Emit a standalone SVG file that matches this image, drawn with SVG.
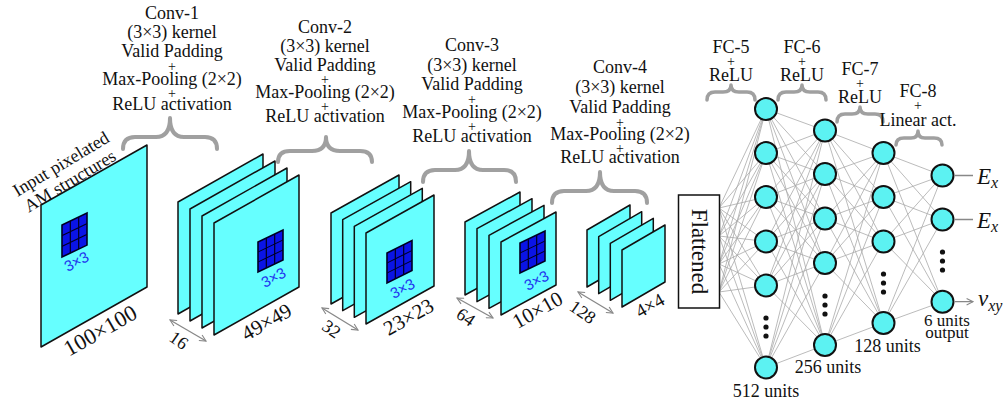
<svg xmlns="http://www.w3.org/2000/svg" width="1005" height="405" viewBox="0 0 1005 405">
<style>
.pl{fill:#66ffff;stroke:#111;stroke-width:1.5;stroke-linejoin:round}
.t{font-family:"Liberation Serif","Times New Roman",serif;fill:#111;font-size:18px;text-anchor:middle}
.pls{font-size:14px}
.dim{font-size:21px}
.bl{font-family:"Liberation Sans",Arial,sans-serif;fill:#2233ee;font-size:15px;text-anchor:middle}
.br{fill:none;stroke:#a0a0a0;stroke-width:4;stroke-linecap:round;stroke-linejoin:round}
.cn{fill:none;stroke:#aaa;stroke-width:0.8}
.nd{fill:#5cf2f2;stroke:#111;stroke-width:2}
.ar{fill:none;stroke:#888;stroke-width:1.3}
.dot{fill:#111}
.it{font-style:italic;text-anchor:start;font-size:23px}
</style>
<defs>
<marker id="ah" viewBox="0 0 10 10" refX="9" refY="5" markerWidth="8" markerHeight="8" markerUnits="userSpaceOnUse" orient="auto-start-reverse">
<path d="M1 1L9 5L1 9" fill="none" stroke="#888" stroke-width="1.4"/>
</marker>
<g id="grid">
<rect x="0" y="0" width="25" height="30" fill="#0a14e6" stroke="#000022" stroke-width="1.6"/>
<path d="M8.33 0V30M16.67 0V30M0 10H25M0 20H25" stroke="#000022" stroke-width="1.2"/>
</g>
</defs>

<!-- connectors -->
<g id="connectors">
<path class="cn" d="M719 208L766 109M719 208L766 153M719 208L766 197M719 208L766 241.5M719 208L766 285.5M719 208L766 367.5M719 236L766 109M719 236L766 153M719 236L766 197M719 236L766 241.5M719 236L766 285.5M719 236L766 367.5M719 264L766 109M719 264L766 153M719 264L766 197M719 264L766 241.5M719 264L766 285.5M719 264L766 367.5M719 292L766 109M719 292L766 153M719 292L766 197M719 292L766 241.5M719 292L766 285.5M719 292L766 367.5"/>
<path class="cn" d="M766 109L825 130.5M766 109L825 174M766 109L825 218.5M766 109L825 263M766 109L825 345M766 153L825 130.5M766 153L825 174M766 153L825 218.5M766 153L825 263M766 153L825 345M766 197L825 130.5M766 197L825 174M766 197L825 218.5M766 197L825 263M766 197L825 345M766 241.5L825 130.5M766 241.5L825 174M766 241.5L825 218.5M766 241.5L825 263M766 241.5L825 345M766 285.5L825 130.5M766 285.5L825 174M766 285.5L825 218.5M766 285.5L825 263M766 285.5L825 345M766 367.5L825 130.5M766 367.5L825 174M766 367.5L825 218.5M766 367.5L825 263M766 367.5L825 345"/>
<path class="cn" d="M825 130.5L883.5 153M825 130.5L883.5 197M825 130.5L883.5 241.5M825 130.5L883.5 323M825 174L883.5 153M825 174L883.5 197M825 174L883.5 241.5M825 174L883.5 323M825 218.5L883.5 153M825 218.5L883.5 197M825 218.5L883.5 241.5M825 218.5L883.5 323M825 263L883.5 153M825 263L883.5 197M825 263L883.5 241.5M825 263L883.5 323M825 345L883.5 153M825 345L883.5 197M825 345L883.5 241.5M825 345L883.5 323"/>
<path class="cn" d="M883.5 153L942.5 175.5M883.5 153L942.5 219.5M883.5 153L942.5 301.7M883.5 197L942.5 175.5M883.5 197L942.5 219.5M883.5 197L942.5 301.7M883.5 241.5L942.5 175.5M883.5 241.5L942.5 219.5M883.5 241.5L942.5 301.7M883.5 323L942.5 175.5M883.5 323L942.5 219.5M883.5 323L942.5 301.7"/>
<path class="ar" marker-end="url(#ah)" d="M955 175.5H973M955 219.5H973M955 301.7H973"/>
<path class="ar" marker-start="url(#ah)" marker-end="url(#ah)" d="M170 320L206 341"/>
<path class="ar" marker-start="url(#ah)" marker-end="url(#ah)" d="M322 308L358 330"/>
<path class="ar" marker-start="url(#ah)" marker-end="url(#ah)" d="M457 298L493 318"/>
<path class="ar" marker-start="url(#ah)" marker-end="url(#ah)" d="M578 292L613 313"/>
</g>

<!-- input -->
<g id="input">
<text class="t" x="64" y="169" transform="rotate(-31 64 169)">Input pixelated</text>
<text class="t" x="73" y="186" transform="rotate(-31 73 186)">AM structures</text>
<polygon class="pl" points="41,205 147,145 147,287 41,347"/>
<use href="#grid" transform="matrix(1,-0.48,0,1.07,62,225)"/>
<text class="bl" x="79" y="266" transform="rotate(-28 79 266)">3×3</text>
<text class="t" style="font-size:22.5px" x="104" y="337" transform="rotate(-29.5 104 337)">100×100</text>
</g>

<!-- conv-1 -->
<g id="conv1">
<text class="t" x="172" y="18.5">Conv-1</text>
<text class="t" x="172" y="37.5">(3×3) kernel</text>
<text class="t" x="172" y="57">Valid Padding</text>
<text class="t pls" x="172" y="70.5">+</text>
<text class="t" x="172" y="84.5">Max-Pooling (2×2)</text>
<text class="t pls" x="172" y="97.5">+</text>
<text class="t" x="172" y="109.5">ReLU activation</text>
<path class="br" d="M123 149Q123 137 135 137H156Q170 137 170 118Q170 137 184 137H205Q217 137 217 149"/>
<polygon class="pl" points="178,202 263,154 263,266 178,314"/>
<polygon class="pl" points="190,209 275,161 275,273 190,321"/>
<polygon class="pl" points="202,216 287,168 287,280 202,328"/>
<polygon class="pl" points="214,223 299,175 299,287 214,335"/>
<use href="#grid" transform="matrix(1,-0.48,0,1,258,242)"/>
<text class="bl" x="276" y="282" transform="rotate(-28 276 282)">3×3</text>
<text class="t dim" x="270" y="328" transform="rotate(-29.5 270 328)">49×49</text>
<text class="t" x="175.4" y="345.2" transform="rotate(35 175.4 345.2)">16</text>
</g>

<!-- conv-2 -->
<g id="conv2">
<text class="t" x="325" y="33">Conv-2</text>
<text class="t" x="325" y="51.5">(3×3) kernel</text>
<text class="t" x="325" y="70.5">Valid Padding</text>
<text class="t pls" x="325" y="84">+</text>
<text class="t" x="325" y="98.3">Max-Pooling (2×2)</text>
<text class="t pls" x="325" y="110.5">+</text>
<text class="t" x="325" y="122">ReLU activation</text>
<path class="br" d="M278 162Q278 151 290 151H312Q326 151 326 137Q326 151 340 151H360Q372 151 372 162"/>
<polygon class="pl" points="331,213 399,175 399,266 331,304"/>
<polygon class="pl" points="342.7,219.7 410.7,181.7 410.7,272.7 342.7,310.7"/>
<polygon class="pl" points="354.3,226.3 422.3,188.3 422.3,279.3 354.3,317.3"/>
<polygon class="pl" points="366,233 434,195 434,286 366,324"/>
<use href="#grid" transform="matrix(1,-0.5,0,1,387,253)"/>
<text class="bl" x="405" y="293" transform="rotate(-28 405 293)">3×3</text>
<text class="t dim" x="412" y="323" transform="rotate(-29.5 412 323)">23×23</text>
<text class="t" x="328" y="334" transform="rotate(35 328 334)">32</text>
</g>

<!-- conv-3 -->
<g id="conv3">
<text class="t" x="472" y="50.7">Conv-3</text>
<text class="t" x="472" y="70.5">(3×3) kernel</text>
<text class="t" x="472" y="90">Valid Padding</text>
<text class="t pls" x="472" y="104">+</text>
<text class="t" x="472" y="118">Max-Pooling (2×2)</text>
<text class="t pls" x="472" y="131">+</text>
<text class="t" x="472" y="141.7">ReLU activation</text>
<path class="br" d="M423 182Q423 170 435 170H455Q469 170 469 151Q469 170 483 170H504Q516 170 516 182"/>
<polygon class="pl" points="465,222 520,192 520,265 465,295"/>
<polygon class="pl" points="477,228.7 532,198.7 532,271.7 477,301.7"/>
<polygon class="pl" points="489,235.3 544,205.3 544,278.3 489,308.3"/>
<polygon class="pl" points="501,242 556,212 556,285 501,315"/>
<use href="#grid" transform="matrix(1,-0.48,0,1,520,243)"/>
<text class="bl" x="539" y="285" transform="rotate(-28 539 285)">3×3</text>
<text class="t dim" x="541" y="316" transform="rotate(-29.5 541 316)">10×10</text>
<text class="t" x="462.4" y="322" transform="rotate(35 462.4 322)">64</text>
</g>

<!-- conv-4 -->
<g id="conv4">
<text class="t" x="620" y="73.3">Conv-4</text>
<text class="t" x="620" y="93.3">(3×3) kernel</text>
<text class="t" x="620" y="113.3">Valid Padding</text>
<text class="t pls" x="620" y="127">+</text>
<text class="t" x="620" y="140">Max-Pooling (2×2)</text>
<text class="t pls" x="620" y="152.5">+</text>
<text class="t" x="620" y="163.3">ReLU activation</text>
<path class="br" d="M552 203Q552 191 564 191H586Q600 191 600 172Q600 191 614 191H635Q647 191 647 203"/>
<polygon class="pl" points="587,230 630,205 630,262 587,287"/>
<polygon class="pl" points="598.7,236.7 641.7,211.7 641.7,268.7 598.7,293.7"/>
<polygon class="pl" points="610.3,243.3 653.3,218.3 653.3,275.3 610.3,300.3"/>
<polygon class="pl" points="622,250 665,225 665,282 622,307"/>
<text class="t" style="font-size:19px" x="653" y="311" transform="rotate(-29.5 653 311)">4×4</text>
<text class="t" x="579.4" y="317" transform="rotate(35 579.4 317)">128</text>
</g>

<!-- flattened -->
<g id="flatten">
<rect x="678.5" y="195" width="41" height="113" fill="#fff" stroke="#111" stroke-width="1.5"/>
<text class="t" style="font-size:23px" dominant-baseline="central" x="699" y="251.5" transform="rotate(90 699 251.5)">Flattened</text>
</g>

<!-- FC-5 -->
<g id="fc5">
<text class="t" x="731" y="52.7">FC-5</text>
<text class="t pls" x="731" y="66">+</text>
<text class="t" x="731" y="81">ReLU</text>
<path class="br" style="stroke-width:3.5" d="M707 100Q707 92 715 92H723Q731 92 731 85Q731 92 739 92H747Q755 92 755 100"/>
<circle class="nd" cx="766" cy="109" r="11"/>
<circle class="nd" cx="766" cy="153" r="11"/>
<circle class="nd" cx="766" cy="197" r="11"/>
<circle class="nd" cx="766" cy="241.5" r="11"/>
<circle class="nd" cx="766" cy="285.5" r="11"/>
<circle class="dot" cx="766" cy="318" r="2.6"/>
<circle class="dot" cx="766" cy="327" r="2.6"/>
<circle class="dot" cx="766" cy="336" r="2.6"/>
<circle class="nd" cx="766" cy="367.5" r="11"/>
<text class="t" x="766" y="396.5">512 units</text>
</g>

<!-- FC-6 -->
<g id="fc6">
<text class="t" x="802" y="52.7">FC-6</text>
<text class="t pls" x="802" y="66">+</text>
<text class="t" x="802" y="81">ReLU</text>
<path class="br" style="stroke-width:3.5" d="M778 100Q778 92 786 92H794Q802 92 802 85Q802 92 810 92H818Q826 92 826 100"/>
<circle class="nd" cx="825" cy="130.5" r="11"/>
<circle class="nd" cx="825" cy="174" r="11"/>
<circle class="nd" cx="825" cy="218.5" r="11"/>
<circle class="nd" cx="825" cy="263" r="11"/>
<circle class="dot" cx="825" cy="296" r="2.6"/>
<circle class="dot" cx="825" cy="305" r="2.6"/>
<circle class="dot" cx="825" cy="314" r="2.6"/>
<circle class="nd" cx="825" cy="345" r="11"/>
<text class="t" x="828" y="373">256 units</text>
</g>

<!-- FC-7 -->
<g id="fc7">
<text class="t" x="860" y="75">FC-7</text>
<text class="t pls" x="860" y="88">+</text>
<text class="t" x="860" y="102.7">ReLU</text>
<path class="br" style="stroke-width:3.5" d="M837 122Q837 114 845 114H852Q860 114 860 107Q860 114 868 114H875Q883 114 883 122"/>
<circle class="nd" cx="883.5" cy="153" r="11"/>
<circle class="nd" cx="883.5" cy="197" r="11"/>
<circle class="nd" cx="883.5" cy="241.5" r="11"/>
<circle class="dot" cx="883.5" cy="274" r="2.6"/>
<circle class="dot" cx="883.5" cy="283" r="2.6"/>
<circle class="dot" cx="883.5" cy="292" r="2.6"/>
<circle class="nd" cx="883.5" cy="323" r="11"/>
<text class="t" x="887.5" y="351.5">128 units</text>
</g>

<!-- FC-8 -->
<g id="fc8">
<text class="t" x="918" y="97.3">FC-8</text>
<text class="t pls" x="918" y="110">+</text>
<text class="t" x="918" y="126">Linear act.</text>
<path class="br" style="stroke-width:3.5" d="M896 145Q896 138 904 138H911Q918 138 918 131Q918 138 925 138H934Q942 138 942 145"/>
<circle class="nd" cx="942.5" cy="175.5" r="11"/>
<circle class="nd" cx="942.5" cy="219.5" r="11"/>
<circle class="dot" cx="942.5" cy="252" r="2.6"/>
<circle class="dot" cx="942.5" cy="261" r="2.6"/>
<circle class="dot" cx="942.5" cy="270" r="2.6"/>
<circle class="nd" cx="942.5" cy="301.7" r="11"/>
<text class="t" style="font-size:17px" x="947" y="325.5">6 units</text>
<text class="t" style="font-size:17px" x="947" y="337.5">output</text>
<text class="t it" x="977" y="183.5">E<tspan font-size="16" dy="4">x</tspan></text>
<text class="t it" x="977" y="227.5">E<tspan font-size="16" dy="4">x</tspan></text>
<text class="t it" x="978" y="306">v<tspan font-size="16" dy="5">xy</tspan></text>
</g>
</svg>
